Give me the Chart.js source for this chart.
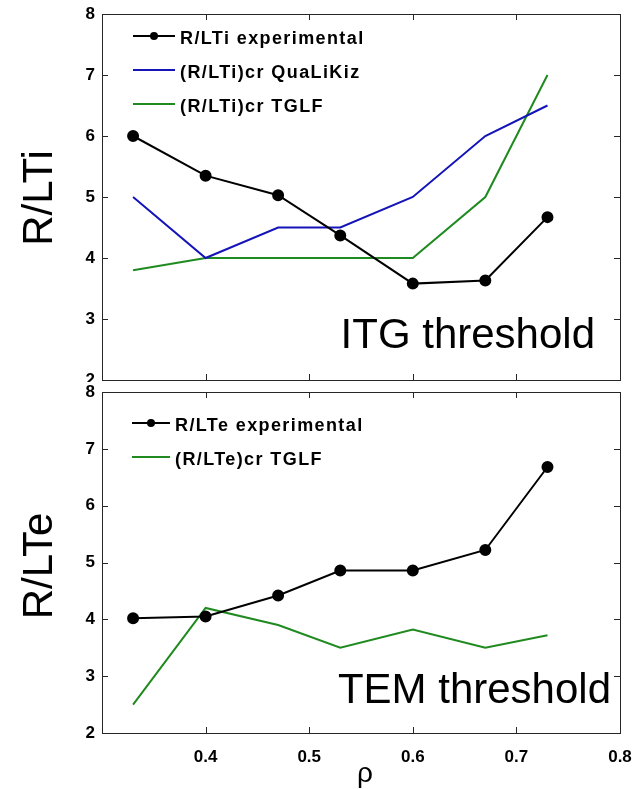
<!DOCTYPE html>
<html>
<head>
<meta charset="utf-8">
<script src="https://cdn.jsdelivr.net/npm/chart.js@4.4.1/dist/chart.umd.min.js"></script>
<style>
  html, body { margin: 0; padding: 0; background: #fff; }
  #wrap { position: relative; width: 637px; height: 789px; overflow: hidden; }
  .panel { position: absolute; left: 0; width: 637px; overflow: hidden; }
  .inner { position: relative; width: 637px; }
</style>
</head>
<body>
<div id="wrap">
  <div class="panel" style="top:0;height:382px">
    <div class="inner" style="height:387px"><canvas id="itg"></canvas></div>
  </div>
  <div class="panel" style="top:382px;height:407px">
    <div class="inner" style="height:407px"><canvas id="tem"></canvas></div>
  </div>
</div>
<script>
// normalised radius of each profile point
const rho = [0.33, 0.40, 0.47, 0.53, 0.60, 0.67, 0.73];

// ion temperature gradient: measured and critical values
const rltiExp  = [6.00, 5.35, 5.03, 4.37, 3.58, 3.63, 4.67];
const rltiQlk  = [5.0, 4.0, 4.5, 4.5, 5.0, 6.0, 6.5];
const rltiTglf = [3.8, 4.0, 4.0, 4.0, 4.0, 5.0, 7.0];

// electron temperature gradient: measured and critical values
const rlteExp  = [4.02, 4.05, 4.42, 4.86, 4.86, 5.22, 6.68];
const rlteTglf = [2.50, 4.20, 3.90, 3.50, 3.82, 3.50, 3.72];

// axis ticks
const rhoTicks = [0.3, 0.4, 0.5, 0.6, 0.7, 0.8];
const rhoTickLabels = ['', '0.4', '0.5', '0.6', '0.7', '0.8'];
const gradTicks = [2, 3, 4, 5, 6, 7, 8];

const FONT = "'Liberation Sans', Arial, Helvetica, sans-serif";
const BLACK = '#000000';
const BLUE = '#1414b8';
const GREEN = '#1f8a1f';

const pts = ys => rho.map((x, i) => ({ x: x, y: ys[i] }));

function expSet(label, ys) {
  return { label, data: pts(ys), borderColor: BLACK, backgroundColor: BLACK,
           borderWidth: 2, pointRadius: 5, pointHoverRadius: 5, tension: 0 };
}
function critSet(label, ys, color) {
  return { label, data: pts(ys), borderColor: color, backgroundColor: color,
           borderWidth: 2, pointRadius: 0, tension: 0 };
}

// box around the plot area with inward tick marks on all four sides
const framePlugin = {
  id: 'frame',
  afterDatasetsDraw(chart) {
    const { ctx, chartArea: a, scales } = chart;
    const len = 6;
    ctx.save();
    ctx.strokeStyle = '#262626';
    ctx.lineWidth = 1;
    ctx.beginPath();
    rhoTicks.forEach(v => {
      const px = Math.round(scales.x.getPixelForValue(v)) + 0.5;
      if (px <= a.left + 1 || px >= a.right - 1) return;
      ctx.moveTo(px, a.bottom); ctx.lineTo(px, a.bottom - len);
      ctx.moveTo(px, a.top); ctx.lineTo(px, a.top + len);
    });
    gradTicks.forEach(v => {
      const py = Math.round(scales.y.getPixelForValue(v)) + 0.5;
      if (py <= a.top + 1 || py >= a.bottom - 1) return;
      ctx.moveTo(a.left, py); ctx.lineTo(a.left + len, py);
      ctx.moveTo(a.right, py); ctx.lineTo(a.right - len, py);
    });
    ctx.stroke();
    ctx.strokeRect(Math.round(a.left) + 0.5, Math.round(a.top) + 0.5,
                   Math.round(a.right - a.left), Math.round(a.bottom - a.top));
    ctx.restore();
  }
};

// legend drawn inside the plot area, MATLAB style
const boxLegendPlugin = {
  id: 'boxLegend',
  afterDraw(chart, args, o) {
    const { ctx } = chart;
    ctx.save();
    chart.data.datasets.forEach((ds, i) => {
      const y = o.y0 + i * o.gap;
      ctx.strokeStyle = ds.borderColor;
      ctx.lineWidth = ds.borderWidth;
      ctx.beginPath();
      ctx.moveTo(o.x0, y); ctx.lineTo(o.x1, y);
      ctx.stroke();
      if (ds.pointRadius > 0) {
        ctx.fillStyle = ds.backgroundColor;
        ctx.beginPath();
        ctx.arc((o.x0 + o.x1) / 2, y, 4, 0, Math.PI * 2);
        ctx.fill();
      }
      ctx.fillStyle = '#000';
      ctx.font = 'bold 18px ' + FONT;
      ctx.letterSpacing = '1.4px';
      ctx.textAlign = 'left';
      ctx.textBaseline = 'middle';
      ctx.fillText(ds.label, o.textX, y + 3);
      ctx.letterSpacing = '0px';
    });
    ctx.restore();
  }
};

// axis titles and panel caption
const panelTextPlugin = {
  id: 'panelText',
  afterDraw(chart, args, o) {
    const { ctx } = chart;
    ctx.save();
    ctx.fillStyle = '#000';
    ctx.font = '42px ' + FONT;
    ctx.save();
    ctx.translate(o.yTitleX, o.yTitleY);
    ctx.rotate(-Math.PI / 2);
    ctx.textAlign = 'center';
    ctx.textBaseline = 'middle';
    ctx.fillText(o.yTitle, 0, 0);
    ctx.restore();
    ctx.textAlign = 'right';
    ctx.textBaseline = 'alphabetic';
    ctx.fillText(o.note, o.noteX, o.noteY);
    if (o.xTitle) {
      ctx.font = '28px ' + FONT;
      ctx.textAlign = 'center';
      const a = chart.chartArea;
      ctx.fillText(o.xTitle, (a.left + a.right) / 2 + 4, o.xTitleY);
    }
    ctx.restore();
  }
};

const tickFont = { family: FONT, size: 17, weight: 'bold' };

function yScale() {
  return {
    type: 'linear', min: 2, max: 8,
    afterBuildTicks: s => { s.ticks = gradTicks.map(v => ({ value: v })); },
    afterFit: s => { s.width = 102; s.paddingTop = 0; s.paddingBottom = 0; },
    grid: { display: false, drawTicks: false },
    border: { display: false },
    ticks: { font: tickFont, color: '#000', padding: 7 }
  };
}

function xScale(showLabels) {
  return {
    type: 'linear', min: 0.3, max: 0.8,
    display: showLabels,
    afterBuildTicks: s => { s.ticks = rhoTicks.map(v => ({ value: v })); },
    afterFit: s => {
      if (showLabels) s.height = 56;
      s.paddingLeft = 0; s.paddingRight = 0;
    },
    grid: { display: false, drawTicks: false },
    border: { display: false },
    ticks: {
      font: tickFont, color: '#000', padding: 14,
      maxRotation: 0, autoSkip: false,
      callback: (v, i) => rhoTickLabels[i]
    }
  };
}

const common = {
  responsive: true,
  maintainAspectRatio: false,
  animation: false,
  events: []
};

new Chart(document.getElementById('itg'), {
  type: 'line',
  data: {
    datasets: [
      expSet('R/LTi experimental', rltiExp),
      critSet('(R/LTi)cr QuaLiKiz', rltiQlk, BLUE),
      critSet('(R/LTi)cr TGLF', rltiTglf, GREEN)
    ]
  },
  options: Object.assign({}, common, {
    layout: { padding: { left: 0, right: 17, top: 14, bottom: 2 } },
    scales: { x: xScale(false), y: yScale() },
    plugins: {
      legend: { display: false },
      tooltip: { enabled: false },
      boxLegend: { x0: 133, x1: 175, textX: 180, y0: 36, gap: 34 },
      panelText: { yTitle: 'R/LTi', yTitleX: 40, yTitleY: 198,
                   note: 'ITG threshold', noteX: 595, noteY: 348 }
    }
  }),
  plugins: [framePlugin, boxLegendPlugin, panelTextPlugin]
});

new Chart(document.getElementById('tem'), {
  type: 'line',
  data: {
    datasets: [
      expSet('R/LTe experimental', rlteExp),
      critSet('(R/LTe)cr TGLF', rlteTglf, GREEN)
    ]
  },
  options: Object.assign({}, common, {
    layout: { padding: { left: 0, right: 17, top: 10, bottom: 0 } },
    scales: { x: xScale(true), y: yScale() },
    plugins: {
      legend: { display: false },
      tooltip: { enabled: false },
      boxLegend: { x0: 132, x1: 170, textX: 175, y0: 41, gap: 34 },
      panelText: { yTitle: 'R/LTe', yTitleX: 40, yTitleY: 184,
                   note: 'TEM threshold', noteX: 611, noteY: 321,
                   xTitle: 'ρ', xTitleY: 400 }
    }
  }),
  plugins: [framePlugin, boxLegendPlugin, panelTextPlugin]
});
</script>
</body>
</html>
